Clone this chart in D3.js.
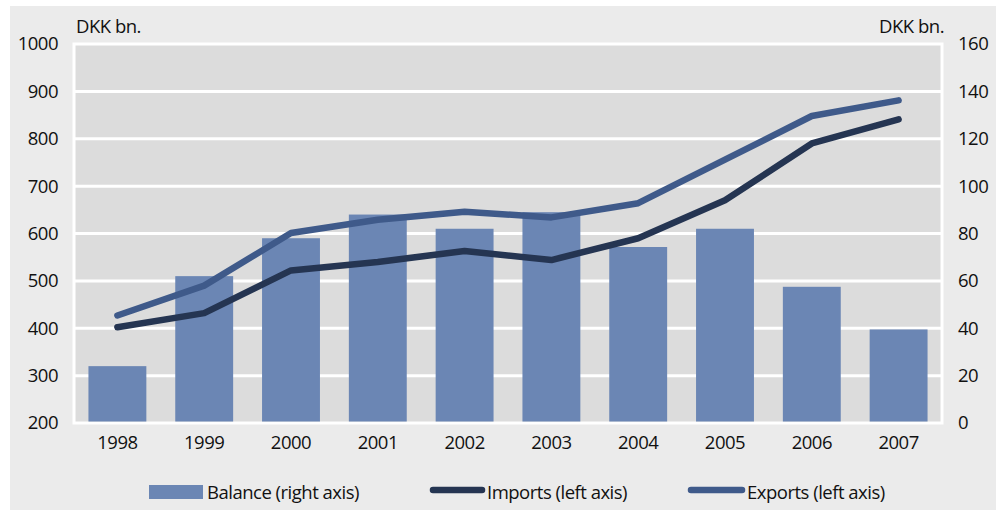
<!DOCTYPE html>
<html><head><meta charset="utf-8">
<script src="https://cdn.jsdelivr.net/npm/d3@7"></script>
<style>
body{margin:0;background:#fff;}
svg text{font-family:"Open Sans",sans-serif;fill:#111;letter-spacing:-0.5px;}
</style></head>
<body>
<svg id="c" width="1001" height="511"></svg>
<script>
const years = ["1998","1999","2000","2001","2002","2003","2004","2005","2006","2007"];
const balance = [24, 62, 78, 88, 82, 89, 74.3, 82, 57.5, 39.5];
const imports = [402, 432, 522, 540, 563, 544, 590, 670, 790, 841];
const exports_ = [427, 490, 601, 629, 646, 634, 664, 756, 848, 881];
const leftTicks = [200,300,400,500,600,700,800,900,1000];
const rightTicks = [0,20,40,60,80,100,120,140,160];
const unitLabel = "DKK bn.";
const legendLabels = ["Balance (right axis)","Imports (left axis)","Exports (left axis)"];

const colors = {bar:"#6b86b4", imp:"#253552", exp:"#3f5a8a", plot:"#dcdcdc", panel:"#ebebeb"};
const svg = d3.select("#c");
const m = {l:74, r:942, t:44, b:423};

svg.append("rect").attr("x",10).attr("y",6).attr("width",986).attr("height",504).attr("fill",colors.panel);

const x = d3.scaleBand().domain(years).range([m.l, m.r]).paddingInner(0.333).paddingOuter(0.1665);
const yL = d3.scaleLinear().domain([200,1000]).range([m.b, m.t]);
const yR = d3.scaleLinear().domain([0,160]).range([m.b, m.t]);

svg.append("rect").attr("x",m.l).attr("y",m.t).attr("width",m.r-m.l).attr("height",m.b-m.t)
  .attr("fill",colors.plot).attr("stroke","#fff").attr("stroke-width",3);

// gridlines
svg.append("g").selectAll("line").data(leftTicks.slice(1,-1)).join("line")
  .attr("x1",m.l).attr("x2",m.r).attr("y1",d=>yL(d)).attr("y2",d=>yL(d))
  .attr("stroke","#fff").attr("stroke-width",3);

// bars
svg.append("g").selectAll("rect").data(balance).join("rect")
  .attr("x",(d,i)=>x(years[i])).attr("width",x.bandwidth())
  .attr("y",d=>yR(d)).attr("height",d=>yR(0)-yR(d)-1.5)
  .attr("fill",colors.bar);

const line = d3.line().x((d,i)=>x(years[i])+x.bandwidth()/2).y(d=>yL(d));
svg.append("path").datum(imports).attr("d",line).attr("fill","none")
  .attr("stroke",colors.imp).attr("stroke-width",6.5).attr("stroke-linecap","round").attr("stroke-linejoin","round");
svg.append("path").datum(exports_).attr("d",line).attr("fill","none")
  .attr("stroke",colors.exp).attr("stroke-width",6.5).attr("stroke-linecap","round").attr("stroke-linejoin","round");

// axes
const fs = 18.5;
const la = svg.append("g").attr("transform",`translate(${m.l-16},0)`)
  .call(d3.axisLeft(yL).tickValues(leftTicks).tickFormat(d3.format("d")).tickSize(0).tickPadding(0));
la.select(".domain").remove();
la.selectAll("text").attr("font-size",fs).attr("font-family","Open Sans").attr("fill","#111");

const ra = svg.append("g").attr("transform",`translate(${m.r+16},0)`)
  .call(d3.axisRight(yR).tickValues(rightTicks).tickFormat(d3.format("d")).tickSize(0).tickPadding(0));
ra.select(".domain").remove();
ra.selectAll("text").attr("font-size",fs).attr("font-family","Open Sans").attr("fill","#111");

const xa = svg.append("g").attr("transform",`translate(0,${m.b+13})`)
  .call(d3.axisBottom(x).tickSize(0).tickPadding(0));
xa.select(".domain").remove();
xa.selectAll("text").attr("font-size",fs).attr("font-family","Open Sans").attr("fill","#111").attr("dy","0.71em");

svg.append("text").attr("x",76).attr("y",33).attr("font-size",fs).text(unitLabel);
svg.append("text").attr("x",944).attr("y",33).attr("font-size",fs).attr("text-anchor","end").text(unitLabel);

// legend
const lg = svg.append("g").attr("font-size",fs);
lg.append("rect").attr("x",149).attr("y",485).attr("width",54).attr("height",14).attr("fill",colors.bar);
lg.append("text").attr("x",207).attr("y",499).text(legendLabels[0]);
lg.append("line").attr("x1",433).attr("x2",482).attr("y1",490).attr("y2",490)
  .attr("stroke",colors.imp).attr("stroke-width",6.5).attr("stroke-linecap","round");
lg.append("text").attr("x",487).attr("y",499).text(legendLabels[1]);
lg.append("line").attr("x1",691).attr("x2",742).attr("y1",490).attr("y2",490)
  .attr("stroke",colors.exp).attr("stroke-width",6.5).attr("stroke-linecap","round");
lg.append("text").attr("x",747).attr("y",499).text(legendLabels[2]);
</script>
</body></html>
